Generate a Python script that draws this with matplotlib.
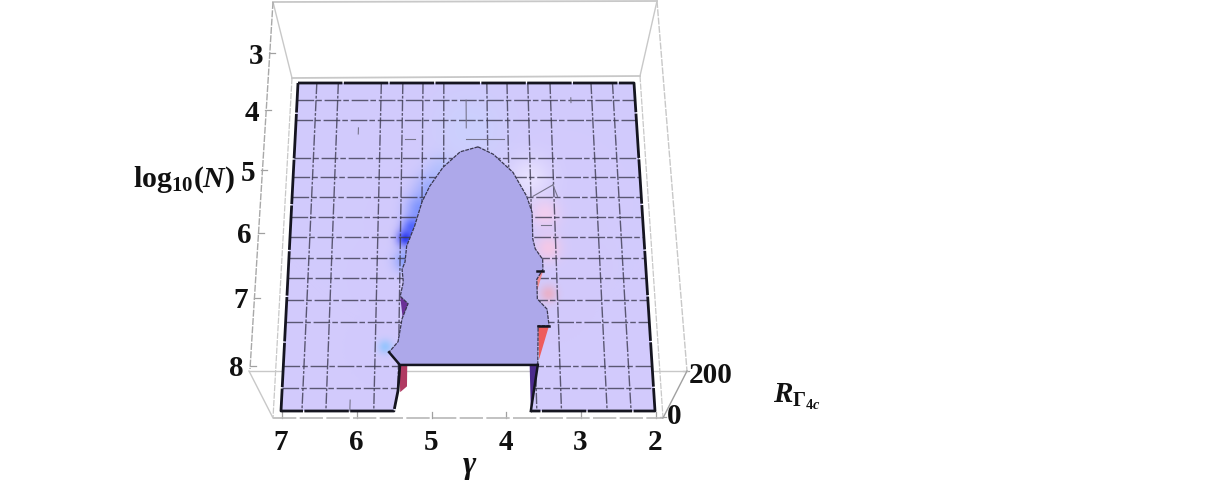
import numpy as np
import matplotlib
matplotlib.use('Agg')
import matplotlib.pyplot as plt
from matplotlib.patches import Polygon
from matplotlib.colors import to_rgb

# tick values
gamma_ticks = [7, 6, 5, 4, 3, 2]
logn_ticks = [3, 4, 5, 6, 7, 8]
r_ticks = [0, 200]

# mesh lines
gamma_mesh = [6.72, 6.4, 5.76, 5.44, 5.14, 4.83, 4.19, 3.89, 3.58, 3.25, 2.64, 2.32]
logn_mesh = [3.29, 3.62, 4.24, 4.55, 4.86, 5.17, 5.48, 5.8, 6.1, 6.43, 6.75, 7.37, 7.68]

# broken mesh pieces: (gamma from, gamma to, logN from, logN to)
mesh_bits = [(5.4, 5.25, 3.93, 3.93), (4.5, 3.95, 3.93, 3.93), (4.5, 4.5, 3.29, 3.75),
             (6.08, 6.08, 7.85, 8.0), (6.08, 6.08, 3.75, 3.85), (2.95, 2.95, 3.25, 3.33),
             (3.55, 3.26, 4.85, 4.67), (3.26, 3.2, 4.67, 4.85), (3.45, 3.3, 5.3, 5.3)]

# plateau outline at R = 200
plateau_gamma = [4.33, 4.59, 4.84, 5.03, 5.14, 5.24, 5.35, 5.37, 5.41, 5.39, 5.43, 5.32, 5.40,
                 5.45, 5.57, 5.42, 3.55, 3.53, 3.38, 3.40, 3.53, 3.53, 3.44, 3.44, 3.54,
                 3.57, 3.57, 3.64, 3.83, 4.11]
plateau_logn = [4.06, 4.14, 4.39, 4.69, 4.94, 5.31, 5.62, 5.86, 5.97, 6.16, 6.37, 6.48, 6.70,
                7.03, 7.18, 7.36, 7.36, 6.80, 6.80, 6.56, 6.41, 6.12, 5.97, 5.82, 5.66,
                5.51, 5.10, 4.85, 4.47, 4.18]

# low surface outline with the notch at the bottom
surface_gamma = [7, 2, 2, 3.66, 3.55, 5.42, 5.44, 5.49, 7]
surface_logn = [3, 3, 8, 8, 7.36, 7.36, 7.72, 8, 8]

# steep walls
walls = [
    ([3.53, 3.38, 3.53], [6.80, 6.80, 7.28], '#ee5c5c'),
    ([3.52, 3.44, 3.53], [6.0, 6.0, 6.29], '#f08a90'),
    ([3.66, 3.55, 3.66], [7.36, 7.36, 7.97], '#4b2a8c'),
    ([5.43, 5.32, 5.32, 5.41], [7.37, 7.37, 7.66, 7.74], '#b03a62'),
    ([5.43, 5.29, 5.39], [6.37, 6.48, 6.70], '#6a2f96'),
]

# colour glow next to the walls: gamma, logN, width, colour, strength
glow = [
    (4.45, 3.77, 26, '#c4d6ff', 0.5),
    (4.88, 4.42, 10, '#a6bcff', 0.55),
    (5.03, 4.74, 11, '#7f9bff', 0.6),
    (5.17, 5.05, 10, '#5f80ff', 0.7),
    (5.28, 5.33, 7, '#3a55ff', 0.8),
    (5.37, 5.51, 6, '#1f30f0', 0.9),
    (5.37, 5.85, 8, '#6f90ff', 0.7),
    (5.63, 7.11, 5, '#8fc4ff', 0.85),
    (3.59, 4.57, 15, '#ece6ff', 0.8),
    (3.39, 5.13, 10, '#ffd0ea', 0.7),
    (3.36, 5.66, 9, '#ffc8e0', 0.75),
    (3.38, 6.34, 6, '#ff9a9a', 0.5),
]

C = -0.1015  # perspective


def depth(n):
    t = (np.asarray(n, dtype=float) - 3) / 5
    return t * (1 + C) / (1 + C * t)


def project(g, n):
    s = depth(n)
    left = 298 - 17 * s
    right = 634 + 21 * s
    f = (7 - np.asarray(g, dtype=float)) / 5
    return left + f * (right - left), 84 + 328 * s


plt.rcParams['font.family'] = ['Liberation Serif', 'DejaVu Sans']
plt.rcParams['font.weight'] = 'bold'
plt.rcParams['mathtext.fontset'] = 'custom'
plt.rcParams['mathtext.rm'] = 'Liberation Serif:bold'
plt.rcParams['mathtext.it'] = 'Liberation Serif:italic:bold'
plt.rcParams['mathtext.bf'] = 'Liberation Serif:bold'

fig = plt.figure(figsize=(12.2, 4.85), dpi=100)
ax = fig.add_axes([0, 0, 1, 1])
ax.set_xlim(0, 1220)
ax.set_ylim(485, 0)
ax.axis('off')

box_col = '#c8c8c8'
# box edges
ax.plot([273, 657], [3, 2], color=box_col, lw=1.3)
ax.plot([292, 640], [79, 77], color=box_col, lw=1.3)
ax.plot([273, 292], [3, 79], color=box_col, lw=1.0)
ax.plot([657, 640], [2, 77], color=box_col, lw=1.0)
ax.plot([273, 250], [3, 370], color='#a8a8a8', lw=1.0, ls=(0, (5, 1)))
ax.plot([657, 687], [2, 372], color=box_col, lw=1.0, ls=(0, (5, 1)))
ax.plot([292, 273], [79, 419], color=box_col, lw=0.9, ls=(0, (5, 1)))
ax.plot([640, 663], [77, 419], color=box_col, lw=0.9, ls=(0, (5, 1)))
ax.plot([249, 687], [372, 372], color=box_col, lw=1.0)
ax.plot([273, 663], [419, 419], color='#b8b8b8', lw=1.2, ls=(0, (14, 2)))
ax.plot([249, 273], [372, 419], color=box_col, lw=1.0)
ax.plot([687, 663], [372, 419], color='#a0a0a0', lw=1.0)

# surface
sx, sy = project(surface_gamma, surface_logn)
surface = Polygon(np.column_stack([sx, sy]), closed=True, fc='#d2cafc', ec='none', zorder=2)
ax.add_patch(surface)

# glow near the walls
gx, gy = np.meshgrid(np.arange(280, 660), np.arange(80, 415))
rgba = np.zeros(gx.shape + (4,))
rgba[..., :3] = to_rgb('#d2cafc')
for g0, n0, w, col, a in glow:
    px, py = project(g0, n0)
    k = a * np.exp(-((gx - px) ** 2 + (gy - py) ** 2) / (2 * w ** 2))
    rgba[..., :3] = rgba[..., :3] * (1 - k[..., None]) + np.array(to_rgb(col)) * k[..., None]
im = ax.imshow(rgba[..., :3], extent=(279.5, 659.5, 414.5, 79.5), aspect='auto',
               interpolation='bilinear', zorder=2.1)
im.set_clip_path(surface)
ax.set_xlim(0, 1220)
ax.set_ylim(485, 0)

# mesh
mesh_col = '#3c3a50'
for g in gamma_mesh:
    x, y = project([g, g], [3, 8])
    l, = ax.plot(x, y, color=mesh_col, lw=1.0, alpha=0.8, ls=(0, (8, 1.2, 2, 1.2)), zorder=2.5)
    l.set_clip_path(surface)
for n in logn_mesh:
    x, y = project([7, 2], [n, n])
    l, = ax.plot(x, y, color=mesh_col, lw=1.0, alpha=0.8, ls=(0, (12, 1.5, 4, 2)), zorder=2.5)
    l.set_clip_path(surface)
for g1, g2, n1, n2 in mesh_bits:
    x, y = project([g1, g2], [n1, n2])
    ax.plot(x, y, color='#77758c', lw=0.8, zorder=2.5)

# surface border
edge_ls = (0, (16, 0.5))
ex, ey = project([7, 2, 2, 3.66], [3, 3, 8, 8])
ax.plot(ex, ey, color='#151520', lw=2.0, ls=edge_ls, zorder=4)
ex, ey = project([3.55, 3.66], [7.36, 8])
ax.plot(ex, ey, color='#151520', lw=1.8, zorder=4)
ex, ey = project([5.42, 5.44, 5.49, 7, 7], [7.36, 7.72, 8, 8, 3])
ax.plot(ex, ey, color='#151520', lw=2.0, ls=edge_ls, zorder=4)

# walls
for wg, wn, col in walls:
    wx, wy = project(wg, wn)
    ax.add_patch(Polygon(np.column_stack([wx, wy]), closed=True, fc=col, ec='none', zorder=3))

# plateau
px, py = project(plateau_gamma, plateau_logn)
ax.add_patch(Polygon(np.column_stack([px, py]), closed=True, fc='#ada8ea', ec='#3a3850',
                     lw=0.9, ls=(0, (3, 0.8)), zorder=3.5))
ex, ey = project([5.57, 5.42, 3.55], [7.18, 7.36, 7.36])
ax.plot(ex, ey, color='#151520', lw=1.8, zorder=4)
ex, ey = project([3.53, 3.38], [6.80, 6.80])
ax.plot(ex, ey, color='#151520', lw=1.8, zorder=4)
ex, ey = project([3.52, 3.44], [6.0, 6.0])
ax.plot(ex, ey, color='#151520', lw=1.8, zorder=4)

# ticks and labels
for g in gamma_ticks:
    x = 282 + (7 - g) * 74.8
    ax.plot([x, x], [419, 413], color='#a0a0a0', lw=0.9, zorder=1)
    ax.text(x - 1, 443, str(g), fontsize=21, ha='center', va='center', color='#111111')
for n in logn_ticks:
    y = 54 + 313 * depth(n)
    x = 269 - (n - 3) * 3.8
    ax.plot([x, x + 6], [y, y], color='#a0a0a0', lw=0.9, zorder=1)
    ax.text(x - 6, y + 2, str(n), fontsize=21, ha='right', va='center', color='#111111')
for r in r_ticks:
    f = r / 200
    ax.plot([660 + 23 * f, 666 + 23 * f], [418 - 46 * f, 418 - 46 * f], color='#a0a0a0', lw=0.9, zorder=1)
ax.text(667, 417, str(r_ticks[0]), fontsize=21, va='center', color='#111111')
ax.text(689, 376, str(r_ticks[1]), fontsize=21, va='center', color='#111111')

ax.text(133, 180, r'$\mathrm{log}_{\mathrm{10}}(N)$', fontsize=21.5, va='center', color='#111111')
ax.text(470, 468, r'$\gamma$', fontsize=23, ha='center', va='center', color='#111111')
ax.text(773, 397, r'$R_{\Gamma_{4c}}$', fontsize=21, va='center', color='#111111')

fig.savefig('out.png', dpi=100)
